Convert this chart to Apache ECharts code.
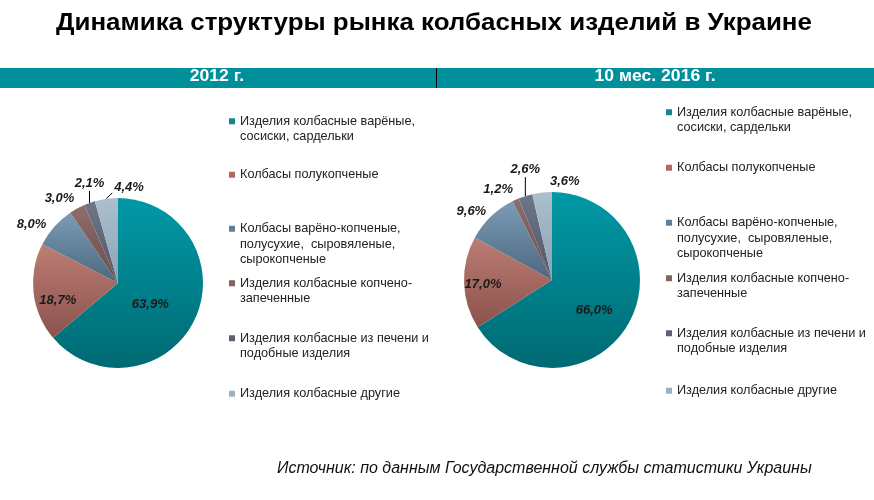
<!DOCTYPE html>
<html><head><meta charset="utf-8">
<script src="https://cdn.jsdelivr.net/npm/echarts@6/dist/echarts.min.js"></script>
<style>html,body{margin:0;padding:0;background:#fff}#c{width:874px;height:500px}</style>
</head><body><div id="c"></div>
<script>
const categories = [
  'Изделия колбасные варёные, сосиски, сардельки',
  'Колбасы полукопченые',
  'Колбасы варёно-копченые, полусухие, сыровяленые, сырокопченые',
  'Изделия колбасные копчено-запеченные',
  'Изделия колбасные из печени и подобные изделия',
  'Изделия колбасные другие'
];
const legendLabels = [
  'Изделия колбасные варёные,\nсосиски, сардельки',
  'Колбасы полукопченые',
  'Колбасы варёно-копченые,\nполусухие,  сыровяленые,\nсырокопченые',
  'Изделия колбасные копчено-\nзапеченные',
  'Изделия колбасные из печени и\nподобные изделия',
  'Изделия колбасные другие'
];
const values2012 = [63.9, 18.7, 8.0, 3.0, 2.1, 4.4];
const values2016 = [66.0, 17.0, 9.6, 1.2, 2.6, 3.6];
const periodLabels = ['2012 г.', '10 мес. 2016 г.'];
const titleText = 'Динамика структуры рынка колбасных изделий в Украине';
const sourceText = 'Источник: по данным Государственной службы статистики Украины';

const grads = [
  ['#0099a6', '#006a73'],
  ['#bd7d73', '#8a524d'],
  ['#7b9bb6', '#4c687f'],
  ['#8f6d6b', '#6a4d4b'],
  ['#6f7588', '#525869'],
  ['#abbfcd', '#8ca3b4']
];
const legendColors = ['#17858f', '#b06a62', '#5f809b', '#86625f', '#5d6172', '#9db1c1'];
function grad(i){
  return new echarts.graphic.LinearGradient(0,0,0,1,[{offset:0,color:grads[i][0]},{offset:1,color:grads[i][1]}]);
}
const fmt = v => v.toFixed(1).replace('.', ',') + '%';

const geom = [ {c:[118,283], r:85}, {c:[552,280], r:88} ];
const seriesValues = [values2012, values2016];
// label placement styles per series
const labelCfg = [
  { modes:['in','in','def','def','top','right'], lens:[0,0,4,10,12,8.5], lines:[0,0,0,0,1,1], nudge:[[-9,2],[-15,12],[0,0],[7,-1],[0,0],[0,0]] },
  { modes:['in','in','def','def','top','right'], lens:[0,0,4,11,19,8.5], lines:[0,0,0,0,1,0], nudge:[[1,8],[-22,3],[3,-2],[7,0],[0,0],[0,0]] }
];

function pieData(vals, cfg){
  return vals.map((v,i)=>({
    name: categories[i], value: v,
    itemStyle:{color: grad(i)},
    label: {position: cfg.modes[i]==='in' ? 'inside' : 'outside'},
    labelLine: {show: !!cfg.lines[i], length: cfg.lens[i], length2: 0}
  }));
}
function edgePoint(s, i){
  const vals = seriesValues[s];
  const total = vals.reduce((a,b)=>a+b,0);
  let cum = 0; for (let k=0;k<i;k++) cum += vals[k];
  const a = (cum + vals[i]/2) / total * Math.PI * 2;
  const g = geom[s];
  return [g.c[0] + g.r*Math.sin(a), g.c[1] - g.r*Math.cos(a)];
}
function makeLayout(s){
  const cfg = labelCfg[s];
  return function(p){
    const i = p.dataIndex, m = cfg.modes[i], n = cfg.nudge[i], L = cfg.lens[i];
    if (m === 'top') {
      const e = edgePoint(s, i);
      const end = [e[0], e[1] - L];
      return {x: end[0] + n[0], y: end[1] - 1 + n[1], align:'center', verticalAlign:'bottom', labelLinePoints:[e, end]};
    }
    if (m === 'right') {
      const e = edgePoint(s, i);
      const end = [e[0] + 0.7*L, e[1] - 0.7*L];
      return {x: end[0] + 2 + n[0], y: end[1] - 5 + n[1], align:'left', verticalAlign:'middle', labelLinePoints:[e, end]};
    }
    return {dx: n[0], dy: n[1]};
  };
}
const labelStyle = {
  formatter: p => fmt(p.value), overflow: 'none',
  fontFamily: 'Liberation Sans, Arial, sans-serif',
  fontSize: 13, fontWeight: 'bold', fontStyle: 'italic', color: '#1a1a1a'
};

const lh = 15.5;
function lineCount(s){ return s.split('\n').length; }
const leftCenters = [121, 175, 229, 283, 338, 394];
const rightCenters = [112, 168, 223, 278, 333, 391];
const legends = [];
[[229, leftCenters],[666, rightCenters]].forEach(([lx, centers])=>{
  categories.forEach((c,i)=>{
    const n = lineCount(legendLabels[i]);
    const H = (2*n-1)*lh;
    const padText = ' \n'.repeat(n-1) + legendLabels[i];
    legends.push({
      data:[{name:c, itemStyle:{color:legendColors[i]}}],
      left: lx, top: Math.round(centers[i] - H/2), padding: 0,
      itemWidth: 6, itemHeight: 6, icon: 'rect', selectedMode: false, itemGap: 0,
      formatter: () => padText,
      textStyle: {fontFamily:'Liberation Sans, Arial, sans-serif', fontSize:12.7, color:'#222', lineHeight: lh}
    });
  });
});

const chart = echarts.init(document.getElementById('c'), null, {renderer:'canvas'});
chart.setOption({
  animation: false,
  backgroundColor: '#fff',
  legend: legends,
  graphic: [
    {type:'text', x:434, y:11, scaleX:1.08, style:{text:titleText, fill:'#000', align:'center', verticalAlign:'top', font:'bold 24px "Liberation Sans", Arial, sans-serif'}},
    {type:'rect', left:0, top:68, shape:{width:874, height:20}, style:{fill:'#00909b'}, silent:true},
    {type:'rect', left:436, top:68, shape:{width:1, height:20}, style:{fill:'#000'}, silent:true},
    {type:'text', x:217, y:69, scaleX:1.1, style:{text:periodLabels[0], fill:'#fff', align:'center', verticalAlign:'top', font:'bold 16px "Liberation Sans", Arial, sans-serif'}},
    {type:'text', x:655, y:69, scaleX:1.1, style:{text:periodLabels[1], fill:'#fff', align:'center', verticalAlign:'top', font:'bold 16px "Liberation Sans", Arial, sans-serif'}},
    {type:'text', left:277, top:461, style:{text:sourceText, fill:'#111', font:'italic 16px "Liberation Sans", Arial, sans-serif'}}
  ],
  series: [
    {type:'pie', center:geom[0].c, radius:geom[0].r, startAngle:90, clockwise:true, avoidLabelOverlap:false,
     label: labelStyle, labelLine:{lineStyle:{color:'#000', width:1}},
     labelLayout: makeLayout(0),
     data: pieData(values2012, labelCfg[0])},
    {type:'pie', center:geom[1].c, radius:geom[1].r, startAngle:90, clockwise:true, avoidLabelOverlap:false,
     label: labelStyle, labelLine:{lineStyle:{color:'#000', width:1}},
     labelLayout: makeLayout(1),
     data: pieData(values2016, labelCfg[1])}
  ]
});
</script></body></html>
